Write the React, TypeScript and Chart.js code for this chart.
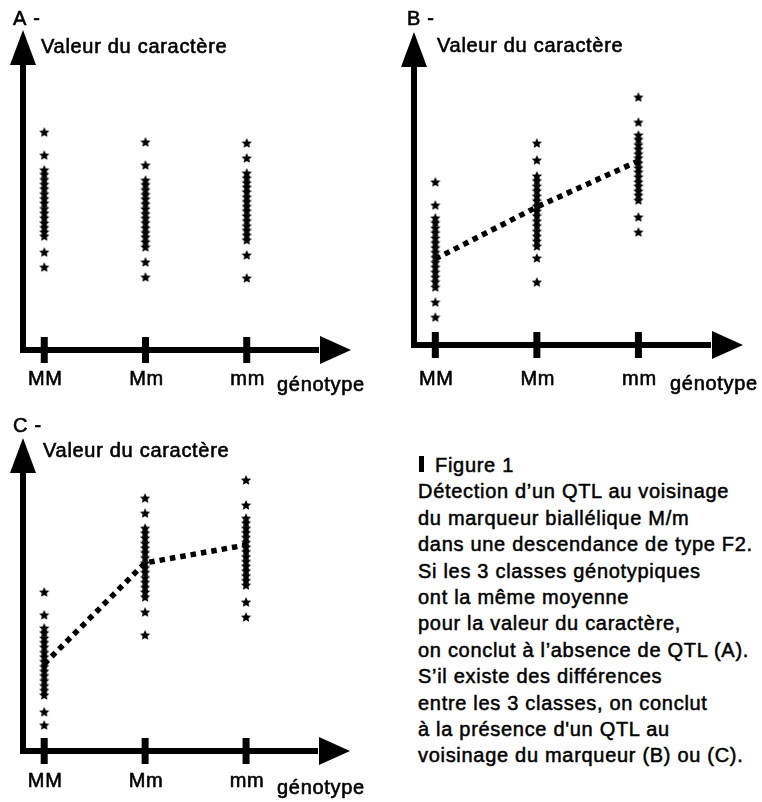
import React, { useEffect, useRef } from 'react';
import { Chart, registerables } from 'chart.js';

Chart.register(...registerables);

// ---------- data ----------
const GENOTYPES = ['MM', 'Mm', 'mm'];
const Y_TITLE = 'Valeur du caractère';
const X_TITLE = 'génotype';

// Panel A : no QTL (same mean)
const A_MM = [68.1, 60.9, 56.3, 54.9, 53.3, 51.8, 50.4, 48.8, 47.3, 45.9, 44.2, 42.8, 41.3, 39.7, 38.3, 36.9, 35.6, 30.6, 25.9];
const A_Mm = [65.0, 57.8, 53.1, 51.7, 50.1, 48.6, 47.2, 45.7, 44.1, 42.6, 41.2, 39.8, 38.2, 36.7, 35.3, 33.8, 32.2, 27.5, 22.8];
const A_mm = [64.7, 60.0, 55.3, 53.8, 52.3, 50.9, 49.4, 47.8, 46.4, 44.9, 43.5, 41.9, 40.4, 38.8, 37.4, 35.9, 34.4, 29.7, 22.5];

// Panel B : additive QTL
const B_MM = [52.1, 44.7, 40.6, 39.1, 37.4, 35.9, 34.2, 32.7, 31.1, 29.6, 28.0, 26.4, 24.9, 23.3, 21.7, 20.2, 18.5, 13.7, 8.9];
const B_Mm = [64.5, 59.1, 54.0, 52.5, 50.8, 49.3, 47.6, 46.1, 44.4, 42.8, 41.3, 39.6, 38.1, 36.4, 34.8, 33.2, 31.6, 27.8, 20.1];
const B_mm = [79.2, 71.2, 67.1, 65.7, 64.0, 62.6, 61.1, 59.8, 58.2, 56.6, 55.3, 53.7, 52.1, 50.8, 49.2, 47.9, 46.3, 40.9, 36.1];
const B_MEANS = [27.5, 44.1, 58.8];

// Panel C : dominant QTL
const C_MM = [50.8, 43.5, 39.3, 37.8, 36.1, 34.7, 33.2, 31.5, 30.1, 28.6, 27.0, 25.5, 24.1, 22.5, 20.9, 19.4, 17.9, 12.5, 8.3];
const C_Mm = [80.8, 76.0, 71.2, 69.7, 68.1, 66.4, 64.9, 63.4, 61.8, 60.1, 58.6, 57.1, 55.4, 53.9, 52.3, 50.8, 49.2, 44.4, 37.1];
const C_mm = [86.6, 78.6, 74.4, 72.9, 71.2, 69.8, 68.3, 66.7, 65.2, 63.7, 62.1, 60.6, 59.1, 57.6, 56.0, 54.5, 53.0, 47.6, 42.8];
const C_MEANS = [27.8, 60.1, 65.8];

const CAPTION = [
  'Détection d’un QTL au voisinage',
  'du marqueur biallélique M/m',
  'dans une descendance de type F2.',
  'Si les 3 classes génotypiques',
  'ont la même moyenne',
  'pour la valeur du caractère,',
  'on conclut à l’absence de QTL (A).',
  'S’il existe des différences',
  'entre les 3 classes, on conclut',
  'à la présence d\'un QTL au',
  'voisinage du marqueur (B) ou (C).',
];

const FONT = '20px "Liberation Sans", Arial, Helvetica, sans-serif';
const LETTER_SPACING = '0.7px';

function makeStar(): HTMLCanvasElement {
  const s = 12;
  const c = document.createElement('canvas');
  c.width = s;
  c.height = s;
  const ctx = c.getContext('2d')!;
  ctx.fillStyle = '#000';
  ctx.beginPath();
  for (let i = 0; i < 10; i++) {
    const r = i % 2 === 0 ? 5.4 : 2.6;
    const a = -Math.PI / 2 + (i * Math.PI) / 5;
    const x = s / 2 + r * Math.cos(a);
    const y = s / 2 + 0.5 + r * Math.sin(a);
    if (i === 0) ctx.moveTo(x, y);
    else ctx.lineTo(x, y);
  }
  ctx.closePath();
  ctx.fill();
  return c;
}

function boldText(ctx: CanvasRenderingContext2D, t: string, x: number, y: number) {
  ctx.fillText(t, x, y);
  ctx.strokeText(t, x, y);
}

const arrowAxesPlugin = {
  id: 'arrowAxes',
  beforeDatasetsDraw(chart: any, _args: any, opts: any) {
    const { ctx, chartArea } = chart;
    const { left, right, top, bottom } = chartArea;
    const xs = chart.scales.x;
    const lw = 6;
    const headL = 33;
    const headW = 13;
    ctx.save();
    ctx.fillStyle = '#000';
    ctx.strokeStyle = '#000';
    // y axis shaft
    ctx.fillRect(left - lw / 2, top + headL - 1, lw, bottom - top - headL + lw / 2 + 1);
    // x axis shaft
    ctx.fillRect(left - lw / 2, bottom - lw / 2, right - headL - left + lw / 2 + 1, lw);
    // y arrowhead
    ctx.beginPath();
    ctx.moveTo(left, top);
    ctx.lineTo(left + headW, top + headL + 2);
    ctx.lineTo(left - headW, top + headL + 2);
    ctx.closePath();
    ctx.fill();
    // x arrowhead
    ctx.beginPath();
    ctx.moveTo(right, bottom);
    ctx.lineTo(right - headL + 2, bottom - headW - 1);
    ctx.lineTo(right - headL + 2, bottom + headW + 1);
    ctx.closePath();
    ctx.fill();
    // tick marks
    GENOTYPES.forEach((_g, i) => {
      const px = xs.getPixelForValue(i);
      ctx.fillRect(px - 3.5, bottom - 13, 7, 26);
    });
    // texts
    ctx.font = FONT;
    (ctx as any).letterSpacing = LETTER_SPACING;
    ctx.lineWidth = 0.6;
    ctx.textBaseline = 'alphabetic';
    ctx.textAlign = 'left';
    boldText(ctx, opts.letter, left + opts.letterDx, top + opts.letterDy);
    boldText(ctx, Y_TITLE, left + opts.titleDx, top + opts.titleDy);
    ctx.textAlign = 'center';
    GENOTYPES.forEach((g, i) => {
      boldText(ctx, g, xs.getPixelForValue(i) + 1, bottom + opts.tickDy);
    });
    ctx.textAlign = 'left';
    boldText(ctx, X_TITLE, right + opts.xTitleDx, bottom + opts.xTitleDy);
    ctx.restore();
  },
};

type PanelProps = {
  left: number;
  top: number;
  width: number;
  height: number;
  padding: { left: number; right: number; top: number; bottom: number };
  series: number[][];
  means?: number[];
  deco: any;
};

function Panel(p: PanelProps) {
  const ref = useRef<HTMLCanvasElement | null>(null);
  useEffect(() => {
    if (!ref.current) return;
    const star = makeStar();
    const datasets: any[] = p.series.map((vals, gi) => ({
      label: GENOTYPES[gi],
      data: vals.map((v) => ({ x: gi, y: v })),
      pointStyle: star,
      pointRadius: 6,
      backgroundColor: '#000',
      borderColor: '#000',
      showLine: false,
    }));
    if (p.means) {
      datasets.push({
        label: 'moyenne',
        data: p.means.map((v, gi) => ({ x: gi, y: v })),
        showLine: true,
        pointRadius: 0,
        borderColor: '#000',
        borderWidth: 5.5,
        borderDash: [5.5, 5],
        borderCapStyle: 'butt',
        fill: false,
      });
    }
    const chart = new Chart(ref.current, {
      type: 'scatter',
      data: { datasets },
      options: {
        animation: false,
        responsive: false,
        maintainAspectRatio: false,
        devicePixelRatio: 1,
        events: [],
        layout: { padding: p.padding },
        scales: {
          x: { type: 'linear', min: -0.21, max: 3.03, display: false },
          y: { type: 'linear', min: 0, max: 100, display: false },
        },
        plugins: {
          legend: { display: false },
          tooltip: { enabled: false },
          arrowAxes: p.deco,
        } as any,
      },
      plugins: [arrowAxesPlugin as any],
    });
    return () => chart.destroy();
  }, []);
  return (
    <canvas
      ref={ref}
      width={p.width}
      height={p.height}
      style={{ position: 'absolute', left: p.left, top: p.top, width: p.width, height: p.height }}
    />
  );
}

export default function App() {
  return (
    <div style={{ position: 'absolute', left: 0, top: 0, width: 762, height: 802, background: '#fff', overflow: 'hidden' }}>
      <Panel
        left={0}
        top={0}
        width={380}
        height={400}
        padding={{ left: 23, right: 29, top: 30, bottom: 50 }}
        series={[A_MM, A_Mm, A_mm]}
        deco={{ letter: 'A -', letterDx: -10, letterDy: -5, titleDx: 18, titleDy: 23, tickDy: 35, xTitleDx: -74, xTitleDy: 41 }}
      />
      <Panel
        left={380}
        top={0}
        width={382}
        height={400}
        padding={{ left: 34, right: 19, top: 32, bottom: 55 }}
        series={[B_MM, B_Mm, B_mm]}
        means={B_MEANS}
        deco={{ letter: 'B -', letterDx: -7, letterDy: -7, titleDx: 23, titleDy: 20, tickDy: 40, xTitleDx: -73, xTitleDy: 45 }}
      />
      <Panel
        left={0}
        top={400}
        width={380}
        height={402}
        padding={{ left: 23, right: 30, top: 38, bottom: 51 }}
        series={[C_MM, C_Mm, C_mm]}
        means={C_MEANS}
        deco={{ letter: 'C -', letterDx: -10, letterDy: -6, titleDx: 20, titleDy: 19, tickDy: 36, xTitleDx: -73, xTitleDy: 43 }}
      />
      <div
        style={{
          position: 'absolute',
          left: 418,
          top: 452,
          font: FONT,
          letterSpacing: LETTER_SPACING,
          lineHeight: '26.4px',
          color: '#000',
          whiteSpace: 'pre',
          WebkitTextStroke: '0.5px #000',
        }}
      >
        <div>
          <span
            style={{ display: 'inline-block', width: 5, height: 16, background: '#000', marginLeft: 1, marginRight: 11, verticalAlign: 'baseline' }}
          />
          Figure 1
        </div>
        {CAPTION.map((line, i) => (
          <div key={i}>{line}</div>
        ))}
      </div>
    </div>
  );
}
